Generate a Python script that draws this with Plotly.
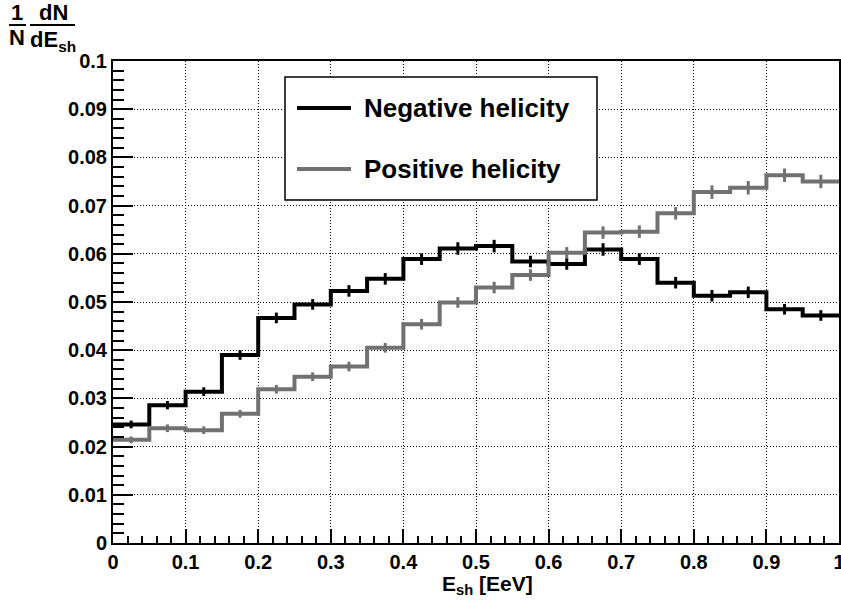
import plotly.graph_objects as go

# ---- data ----
bin_edges = [0.00, 0.05, 0.10, 0.15, 0.20, 0.25, 0.30, 0.35, 0.40, 0.45, 0.50,
             0.55, 0.60, 0.65, 0.70, 0.75, 0.80, 0.85, 0.90, 0.95, 1.00]
bin_centers = [0.025, 0.075, 0.125, 0.175, 0.225, 0.275, 0.325, 0.375, 0.425, 0.475,
               0.525, 0.575, 0.625, 0.675, 0.725, 0.775, 0.825, 0.875, 0.925, 0.975]
negative = [0.0246, 0.0286, 0.0314, 0.0390, 0.0467, 0.0495, 0.0523, 0.0548, 0.0589, 0.0611,
            0.0616, 0.0584, 0.0579, 0.0609, 0.0589, 0.0540, 0.0513, 0.0520, 0.0485, 0.0472]
negative_err = [0.0008, 0.00085, 0.0009, 0.0010, 0.0011, 0.0011, 0.0012, 0.0012, 0.0012, 0.0013,
                0.0013, 0.0012, 0.0012, 0.0013, 0.0012, 0.0012, 0.0012, 0.0012, 0.0011, 0.0011]
positive = [0.0214, 0.0238, 0.0234, 0.0268, 0.0319, 0.0345, 0.0366, 0.0405, 0.0454, 0.0499,
            0.0530, 0.0556, 0.0602, 0.0644, 0.0646, 0.0684, 0.0728, 0.0737, 0.0763, 0.0750]
positive_err = [0.0007, 0.0008, 0.0008, 0.0008, 0.0009, 0.0009, 0.0010, 0.0010, 0.0011, 0.0011,
                0.0012, 0.0012, 0.0012, 0.0013, 0.0013, 0.0013, 0.0014, 0.0014, 0.0014, 0.0014]
x_ticks = [0, 0.1, 0.2, 0.3, 0.4, 0.5, 0.6, 0.7, 0.8, 0.9, 1]
x_ticklabels = ["0", "0.1", "0.2", "0.3", "0.4", "0.5", "0.6", "0.7", "0.8", "0.9", "1"]
y_ticks = [0, 0.01, 0.02, 0.03, 0.04, 0.05, 0.06, 0.07, 0.08, 0.09, 0.1]
y_ticklabels = ["0", "0.01", "0.02", "0.03", "0.04", "0.05", "0.06", "0.07", "0.08", "0.09", "0.1"]
series_names = ["Negative helicity", "Positive helicity"]

BLACK = "#000000"
GRAY = "#717171"
FONT = "Liberation Sans"

W, H = 841, 600
L, R, T, B = 113, 839, 61, 543


def px(x):
    return (x - L) / (R - L)


def py(y):
    return (B - y) / (B - T)


fig = go.Figure()

for vals, errs, color, name in [(negative, negative_err, BLACK, series_names[0]),
                                (positive, positive_err, GRAY, series_names[1])]:
    fig.add_trace(go.Scatter(
        x=bin_edges, y=vals + [vals[-1]], mode="lines", line=dict(color=color, width=4, shape="hv"),
        name=name, showlegend=False, hoverinfo="skip"))
    fig.add_trace(go.Scatter(
        x=bin_centers, y=vals, mode="markers", marker=dict(size=1, color=color, opacity=0),
        error_y=dict(type="data", array=errs, visible=True, color=color, thickness=3, width=0),
        showlegend=False, name=name))

axis_common = dict(
    showline=True, linecolor="black", linewidth=2, mirror=True,
    showgrid=True, gridcolor="black", gridwidth=1, griddash="1px,2px",
    zeroline=False, ticks="inside", tickcolor="black", tickwidth=1.5,
    ticklabeloverflow="allow",
    tickfont=dict(family=FONT, size=20, color="black", weight="bold"),
)

fig.update_xaxes(range=[0, 1], tickvals=x_ticks, ticktext=x_ticklabels, ticklen=14,
                 minor=dict(dtick=0.02, ticklen=7, ticks="inside", tickcolor="black", tickwidth=1.5,
                            showgrid=False),
                 **axis_common)
fig.update_yaxes(range=[0, 0.1], tickvals=y_ticks, ticktext=y_ticklabels, ticklen=20,
                 minor=dict(dtick=0.002, ticklen=11, ticks="inside", tickcolor="black", tickwidth=1.5,
                            showgrid=False),
                 **axis_common)

shapes = []
annotations = []

# legend box
shapes.append(dict(type="rect", xref="paper", yref="paper", x0=px(285), x1=px(597), y0=py(200), y1=py(77),
                   line=dict(color="black", width=1.5), fillcolor="white", layer="above"))
for yy, color, name in [(108, BLACK, series_names[0]), (169, GRAY, series_names[1])]:
    shapes.append(dict(type="line", xref="paper", yref="paper", x0=px(297), x1=px(351), y0=py(yy), y1=py(yy),
                       line=dict(color=color, width=4), layer="above"))
    annotations.append(dict(xref="paper", yref="paper", x=px(362), y=py(yy), xanchor="left", yanchor="middle",
                            text=name, showarrow=False,
                            font=dict(family=FONT, size=26, color="black", weight="bold")))

# x axis title
annotations.append(dict(xref="paper", yref="paper", x=px(487), y=py(585), xanchor="center", yanchor="middle",
                        text="E<sub>sh</sub> [EeV]", showarrow=False,
                        font=dict(family=FONT, size=21, color="black", weight="bold")))

# y axis title: 1/N dN/dE_sh
tfont = dict(family=FONT, size=22, color="black", weight="bold")
annotations.append(dict(xref="paper", yref="paper", x=px(17), y=py(13), xanchor="center", yanchor="middle",
                        text="1", showarrow=False, font=tfont))
annotations.append(dict(xref="paper", yref="paper", x=px(17), y=py(38), xanchor="center", yanchor="middle",
                        text="N", showarrow=False, font=tfont))
annotations.append(dict(xref="paper", yref="paper", x=px(53), y=py(13), xanchor="center", yanchor="middle",
                        text="dN", showarrow=False, font=tfont))
annotations.append(dict(xref="paper", yref="paper", x=px(53), y=py(41), xanchor="center", yanchor="middle",
                        text="dE<sub>sh</sub>", showarrow=False, font=tfont))
shapes.append(dict(type="line", xref="paper", yref="paper", x0=px(9), x1=px(26), y0=py(25), y1=py(25),
                   line=dict(color="black", width=2)))
shapes.append(dict(type="line", xref="paper", yref="paper", x0=px(30), x1=px(75), y0=py(25), y1=py(25),
                   line=dict(color="black", width=2)))

fig.update_layout(
    width=W, height=H,
    margin=dict(l=L, r=W - R, t=T, b=H - B, autoexpand=False),
    paper_bgcolor="white", plot_bgcolor="white",
    showlegend=False,
    shapes=shapes, annotations=annotations,
)

fig.write_html("out.html", config={"displayModeBar": False},
               post_script="document.body.style.margin='0';document.body.style.overflow='hidden';")
